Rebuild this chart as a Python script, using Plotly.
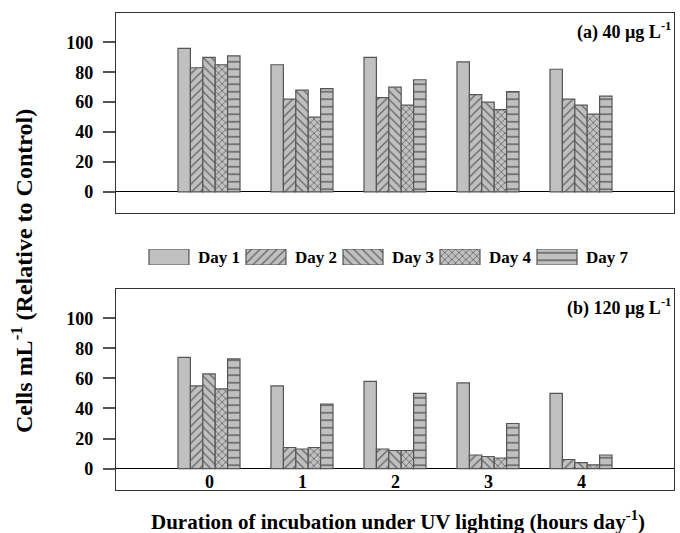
import plotly.graph_objects as go

hours = [0, 1, 2, 3, 4]
hour_labels = ["0", "1", "2", "3", "4"]
days = ["Day 1", "Day 2", "Day 3", "Day 4", "Day 7"]
patterns = ["", "/", "\\", "x", "-"]

# (a) 40 ug/L
a_day1 = [96, 85, 90, 87, 82]
a_day2 = [83, 62, 63, 65, 62]
a_day3 = [90, 68, 70, 60, 58]
a_day4 = [85, 50, 58, 55, 52]
a_day7 = [91, 69, 75, 67, 64]

# (b) 120 ug/L
b_day1 = [74, 55, 58, 57, 50]
b_day2 = [55, 14, 13, 9, 6]
b_day3 = [63, 13, 12, 8, 4]
b_day4 = [53, 14, 12, 7, 2.5]
b_day7 = [73, 43, 50, 30, 9]

y_ticks = [0, 20, 40, 60, 80, 100]

panel_a = [a_day1, a_day2, a_day3, a_day4, a_day7]
panel_b = [b_day1, b_day2, b_day3, b_day4, b_day7]

FONT = "Liberation Serif"
FILL = "#c0c0c0"
EDGE = "#555555"
pat_size = {"/": 6, "\\": 6, "x": 5, "-": 7.5, "": 8}
pat_solid = {"/": 0.2, "\\": 0.2, "x": 0.28, "-": 0.2, "": 0.2}

fig = go.Figure()

def bar_marker(pat):
    return dict(color=FILL, line=dict(color=EDGE, width=1.2),
                pattern=dict(shape=pat, fgcolor="black", bgcolor=FILL,
                             size=pat_size[pat], solidity=pat_solid[pat]))

def add_panel(series, xa, ya):
    for name, vals, pat in zip(days, series, patterns):
        fig.add_trace(go.Bar(
            x=hours, y=vals, name=name, showlegend=False,
            xaxis=xa, yaxis=ya, marker=bar_marker(pat),
        ))

add_panel(panel_a, "x", "y")
add_panel(panel_b, "x2", "y2")

# custom legend swatches
for i, (name, pat) in enumerate(zip(days, patterns)):
    fig.add_trace(go.Bar(
        x=[i], y=[1], width=0.412, xaxis="x3", yaxis="y3", showlegend=False,
        marker=bar_marker(pat), hoverinfo="skip",
    ))
    fig.add_annotation(x=i + 0.206, y=0.5, xref="x3", yref="y3", xanchor="left",
                       yanchor="middle", xshift=7, text="<b>%s</b>" % name,
                       showarrow=False, font=dict(family=FONT, size=17, color="black"))

axis_common = dict(showline=True, mirror=True, linecolor="#333333", linewidth=1.2,
                   showgrid=False)

yax = dict(axis_common, range=[-14.3, 119.6], tickvals=y_ticks,
           ticks="outside", ticklen=12, tickcolor="#555555", tickwidth=1.5,
           ticklabelstandoff=6,
           zeroline=True, zerolinecolor="black", zerolinewidth=1.2,
           tickfont=dict(family=FONT, size=18, color="black", weight="bold"))
xax = dict(axis_common, range=[-1, 5], showticklabels=False, ticks="", zeroline=False)

fig.update_layout(
    width=680, height=533,
    margin=dict(l=116, r=6, t=13, b=43),
    paper_bgcolor="white", plot_bgcolor="white",
    barmode="group", bargap=0.333, bargroupgap=0,
    showlegend=False,
    xaxis=dict(xax, domain=[0, 1], anchor="y"),
    yaxis=dict(yax, domain=[0.580, 1], anchor="x"),
    xaxis2=dict(xax, domain=[0, 1], anchor="y2"),
    yaxis2=dict(yax, domain=[0, 0.4214], anchor="x2"),
    xaxis3=dict(domain=[0, 1], anchor="y3", range=[-0.546, 5.206], visible=False),
    yaxis3=dict(domain=[0.4717, 0.5052], anchor="x3", range=[0, 1], visible=False),
)

# x tick labels on the zero line of panel (b)
for h, lab in zip(hours, hour_labels):
    fig.add_annotation(x=h, y=0, xref="x2", yref="y2", yanchor="top", yshift=-1,
                       text="<b>%s</b>" % lab, showarrow=False,
                       font=dict(family=FONT, size=18, color="black"))

# panel labels
fig.add_annotation(x=1, y=1, xref="x domain", yref="y domain", xanchor="right",
                   yanchor="top", xshift=-1, yshift=-4,
                   text="<b>(a) 40 µg L<sup>-1</sup></b>", showarrow=False,
                   font=dict(family=FONT, size=18, color="black"))
fig.add_annotation(x=1, y=1, xref="x2 domain", yref="y2 domain", xanchor="right",
                   yanchor="top", xshift=-1, yshift=-4,
                   text="<b>(b) 120 µg L<sup>-1</sup></b>", showarrow=False,
                   font=dict(family=FONT, size=18, color="black"))

# axis titles
fig.add_annotation(x=-0.1685, y=0.459, xref="paper", yref="paper", xanchor="center",
                   yanchor="middle", textangle=-90,
                   text="<b>Cells mL<sup>-1</sup> (Relative to Control)</b>",
                   showarrow=False, font=dict(family=FONT, size=24, color="black"))
fig.add_annotation(x=0.505, y=0, xref="paper", yref="paper", xanchor="center",
                   yanchor="middle", yshift=-30,
                   text="<b>Duration of incubation under UV lighting (hours day<sup>-1</sup>)</b>",
                   showarrow=False, font=dict(family=FONT, size=21, color="black"))

fig.write_html("out.html", post_script="document.body.style.margin='0px';",
               config={"displayModeBar": False})
